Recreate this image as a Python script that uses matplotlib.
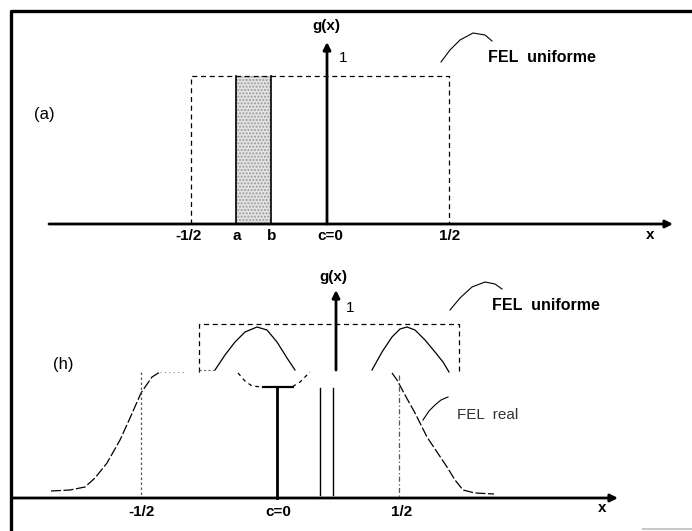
import numpy as np
import matplotlib.pyplot as plt

# diagram drawn in pixel-like coordinates (x right, y down)
plt.rcParams['font.family'] = ['Liberation Sans Narrow', 'Liberation Sans', 'DejaVu Sans']

# frame
frame_x = [11, 11, 692]
frame_y = [531, 11, 11]

# ---- panel (a) ----
axis_a_y = 224
axis_a_x = [49, 673]
yaxis_a_x = 327
yaxis_a_top = 42
rect_a_x = [191, 191, 449, 449]
rect_a_y = [224, 76, 76, 224]
band_a = [236, 271]
ticks_a = ['-1/2', 'a', 'b', 'c=0', '1/2']
ticks_a_x = [189, 237, 272, 330, 450]
lead_a_x = [441, 450, 460, 473, 485, 492]
lead_a_y = [62, 50, 40, 33, 35, 41]

# ---- panel (b) ----
axis_b_y = 498
axis_b_x = [12, 618]
yaxis_b_x = 336
yaxis_b = [370, 290]
rect_b_x = [199, 199, 459, 459]
rect_b_y = [372, 324, 324, 372]
ticks_b = ['-1/2', 'c=0', '1/2']
ticks_b_x = [142, 278, 402]
bump_l_x = [215, 225, 235, 245, 257, 267, 277, 287, 295]
bump_l_y = [370, 355, 342, 332, 327, 330, 342, 358, 370]
bump_r_x = [372, 382, 392, 400, 407, 415, 425, 435, 443, 449]
bump_r_y = [370, 352, 337, 329, 327, 330, 340, 352, 362, 372]
real_l_x = [51, 70, 85, 95, 107, 120, 130, 141, 152, 160]
real_l_y = [491, 490, 487, 478, 463, 440, 418, 393, 377, 372]
real_r_x = [392, 397, 405, 415, 427, 437, 447, 455, 463, 475, 494]
real_r_y = [373, 380, 395, 413, 437, 452, 467, 480, 490, 493, 494]
dip_x = [238, 245, 252, 262, 292, 300, 310]
dip_y = [373, 381, 386, 387, 387, 382, 372]
lead_b1_x = [450, 460, 472, 485, 495, 502]
lead_b1_y = [310, 298, 287, 282, 284, 289]
lead_b2_x = [423, 429, 435, 441, 448]
lead_b2_y = [420, 411, 405, 400, 397]

fig = plt.figure(figsize=(6.92, 5.31), dpi=100)
ax = fig.add_axes([0, 0, 1, 1])
ax.set_xlim(0, 692)
ax.set_ylim(531, 0)
ax.axis('off')

ax.plot(frame_x, frame_y, color='k', lw=2.4, solid_capstyle='butt')

arr = dict(arrowstyle='-|>', color='k', lw=2.0, mutation_scale=11, shrinkA=0, shrinkB=0)
txt = dict(fontweight='bold', fontsize=11, ha='center', va='center')

# (a)
ax.annotate('', xy=(axis_a_x[1], axis_a_y), xytext=(axis_a_x[0], axis_a_y), arrowprops=arr)
ax.annotate('', xy=(yaxis_a_x, yaxis_a_top), xytext=(yaxis_a_x, axis_a_y), arrowprops=arr)
ax.plot(rect_a_x, rect_a_y, color='k', lw=0.9, ls=(0, (4, 3)))
ax.fill_between(band_a, 76, axis_a_y, facecolor='#e4e4e4', edgecolor='#9a9a9a',
                hatch='.....', lw=0)
for bx in band_a:
    ax.plot([bx, bx], [76, axis_a_y], color='k', lw=1.2)
for lab, tx in zip(ticks_a, ticks_a_x):
    ax.text(tx, 236, lab, **txt)
ax.text(650, 235, 'x', **txt)
ax.text(yaxis_a_x - 1, 26, 'g(x)', **txt)
ax.text(343, 58, '1', fontsize=11, ha='center', va='center')
ax.text(44, 115, '(a)', fontsize=12, ha='center', va='center')
ax.plot(lead_a_x, lead_a_y, color='k', lw=0.8)
ax.text(488, 57, 'FEL  uniforme', fontsize=11.5, fontweight='bold', ha='left', va='center')

# (b)
ax.annotate('', xy=(axis_b_x[1], axis_b_y), xytext=(axis_b_x[0], axis_b_y), arrowprops=arr)
ax.annotate('', xy=(yaxis_b_x, yaxis_b[1]), xytext=(yaxis_b_x, yaxis_b[0]), arrowprops=arr)
ax.plot(rect_b_x, rect_b_y, color='k', lw=0.9, ls=(0, (4, 3)))
ax.plot(bump_l_x, bump_l_y, color='k', lw=0.9)
ax.plot(bump_r_x, bump_r_y, color='k', lw=0.9)
ax.plot(real_l_x, real_l_y, color='k', lw=0.9, ls=(0, (8, 2)))
ax.plot(real_r_x, real_r_y, color='k', lw=0.9, ls=(0, (8, 2)))
ax.plot(dip_x, dip_y, color='k', lw=0.9, ls=(0, (3, 3)))
ax.plot([263, 293], [387, 387], color='k', lw=1.6)
ax.plot([277, 277], [387, axis_b_y], color='k', lw=2.0)
for vx in [320, 333]:
    ax.plot([vx, vx], [388, 495], color='k', lw=1.0)
ax.plot([141, 141], [372, axis_b_y], color='#555555', lw=0.9, ls=(0, (2, 2)))
ax.plot([399, 399], [375, axis_b_y], color='#555555', lw=0.9, ls=(0, (4, 2, 1, 2)))
ax.plot([199, 215], [370, 370], color='#666666', lw=0.8, ls=(0, (2, 2)))
ax.plot([160, 185], [372, 372], color='#888888', lw=0.8, ls=(0, (1, 3)))
for lab, tx in zip(ticks_b, ticks_b_x):
    ax.text(tx, 512, lab, **txt)
ax.text(602, 508, 'x', **txt)
ax.text(333, 277, 'g(x)', **txt)
ax.text(350, 308, '1', fontsize=11, ha='center', va='center')
ax.text(63, 365, '(h)', fontsize=12, ha='center', va='center')
ax.plot(lead_b1_x, lead_b1_y, color='k', lw=0.8)
ax.text(492, 306, 'FEL  uniforme', fontsize=11.5, fontweight='bold', ha='left', va='center')
ax.plot(lead_b2_x, lead_b2_y, color='k', lw=0.8)
ax.text(457, 415, 'FEL  real', fontsize=11, ha='left', va='center', color='#333333')
ax.plot([643, 692], [529, 529], color='#c8c8c8', lw=1.5)

fig.savefig('out.png', dpi=100)
